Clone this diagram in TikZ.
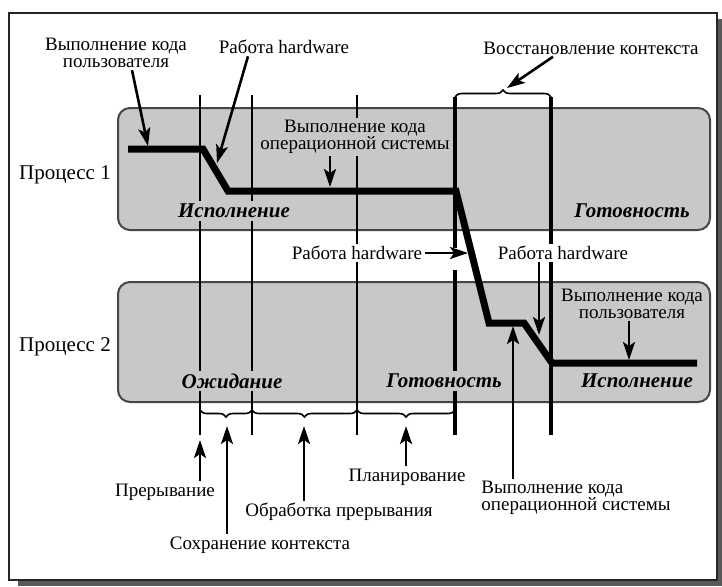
\documentclass[tikz,border=0pt]{standalone}
\usepackage{fontspec}
\setmainfont{Liberation Serif}
\usetikzlibrary{arrows.meta,decorations.pathreplacing}
\definecolor{boxgray}{RGB}{200,200,200}
\definecolor{edgegray}{RGB}{70,70,70}
\begin{document}
\begin{tikzpicture}
  [x=0.5pt,y=-0.5pt,
   lbl/.style={font=\fontsize{9.5}{8.5}\selectfont,inner sep=1pt,align=center},
   proc/.style={rectangle,rounded corners=6pt,draw=edgegray,line width=1pt,fill=boxgray},
   pname/.style={font=\fontsize{10.5}{12}\selectfont,inner sep=1pt},
   state/.style={font=\fontsize{10.5}{12}\selectfont\bfseries\itshape,inner sep=1.5pt,fill=boxgray},
   tick/.style={line width=1.4pt},
   ptr/.style={-{Stealth[length=9pt,width=6pt,inset=2pt]},line width=1.3pt},
   run/.style={line width=3.5pt,line join=miter},
   brc/.style={decorate,decoration={brace,amplitude=3.5pt},line width=0.8pt}]
\useasboundingbox (0,0) rectangle (722,586);
% frame with shadow
\fill[black!65] (18,19) rectangle (722,586);
\draw[fill=white,line width=1.2pt,draw=black!85] (9,13) rectangle (717,580);
%
\node at (414,169) (p1box) [proc,minimum width=296pt,minimum height=61pt] {};
\node at (414,342) (p2box) [proc,minimum width=296pt,minimum height=60pt] {};
\node at (65,175) (p1name) [pname] {Процесс 1};
\node at (65,347) (p2name) [pname] {Процесс 2};
%
\foreach \x in {200,252,357} \draw[tick] (\x,95) -- (\x,435);
\draw[tick,line width=1.8pt] (455,97) -- (455,248);
\draw[tick,line width=1.8pt] (455,270) -- (455,435);
\draw[tick,line width=1.8pt] (551,97) -- (551,435);
%
\draw[brc] (455,97) -- (551,97);
\draw[brc] (252,410) -- (200,410);
\draw[brc] (357,410) -- (252,410);
\draw[brc] (455,410) -- (357,410);
%
\draw[run] (128,149) -- (203,149) -- (228,191) -- (456,191) -- (489,323)
  -- (524,323) -- (552,363) -- (697,363);
%
\node at (234,211) (exec1) [state] {Исполнение};
\node at (632,211) (ready1) [state] {Готовность};
\node at (232,381) (wait2) [state] {Ожидание};
\node at (444,381) (ready2) [state] {Готовность};
\node at (637,381) (exec2) [state] {Исполнение};
%
\coordinate (usr1) at (148,146);
\coordinate (hw1) at (217,163);
\coordinate (os1) at (330,187);
\coordinate (hw2) at (468,253);
\coordinate (rst) at (507,88);
\coordinate (hw3) at (539,335);
\coordinate (usr2) at (629,360);
\coordinate (os2) at (513,326);
\coordinate (intr) at (200,440);
\coordinate (save) at (227,426);
\coordinate (hndl) at (304,426);
\coordinate (sched) at (406,426);
%
\node at (116,53) (usrtxt1) [lbl] {Выполнение кода\\пользователя};
\node at (284,47) (hwtxt1) [lbl] {Работа hardware};
\node at (355,137) (ostxt1) [lbl,fill=boxgray] {Выполнение кода\\операционной системы};
\node at (357,253) (hwtxt2) [lbl,fill=white] {Работа hardware};
\node at (591,48) (rsttxt) [lbl] {Восстановление контекста};
\node at (563,253) (hwtxt3) [lbl,fill=white] {Работа hardware};
\node at (632,304) (usrtxt2) [lbl,fill=boxgray] {Выполнение кода\\пользователя};
\node at (479,498) (ostxt2) [lbl,anchor=west,align=left] {Выполнение кода\\операционной системы};
\node at (165,492) (intrtxt) [lbl] {Прерывание};
\node at (260,545) (savetxt) [lbl] {Сохранение контекста};
\node at (339,512) (hndltxt) [lbl] {Обработка прерывания};
\node at (407,477) (schedtxt) [lbl] {Планирование};
%
\draw[ptr] ([xshift=8pt]usrtxt1.south) -- (usr1);
\draw[ptr] ([xshift=-18pt]hwtxt1.south) -- (hw1);
\draw[ptr] (os1 |- ostxt1.south) -- (os1);
\draw[ptr] (hwtxt2.east) -- (hw2);
\draw[ptr] ([xshift=-19pt]rsttxt.south) -- (rst);
\draw[ptr] (hw3 |- hwtxt3.south) -- (hw3);
\draw[ptr] (usr2 |- usrtxt2.south) -- (usr2);
\draw[ptr] (os2 |- ostxt2.north) -- (os2);
\draw[ptr] (intr |- intrtxt.north) -- (intr);
\draw[ptr] (save |- savetxt.north) -- (save);
\draw[ptr] (hndl |- hndltxt.north) -- (hndl);
\draw[ptr] (sched |- schedtxt.north) -- (sched);
\end{tikzpicture}
\end{document}
